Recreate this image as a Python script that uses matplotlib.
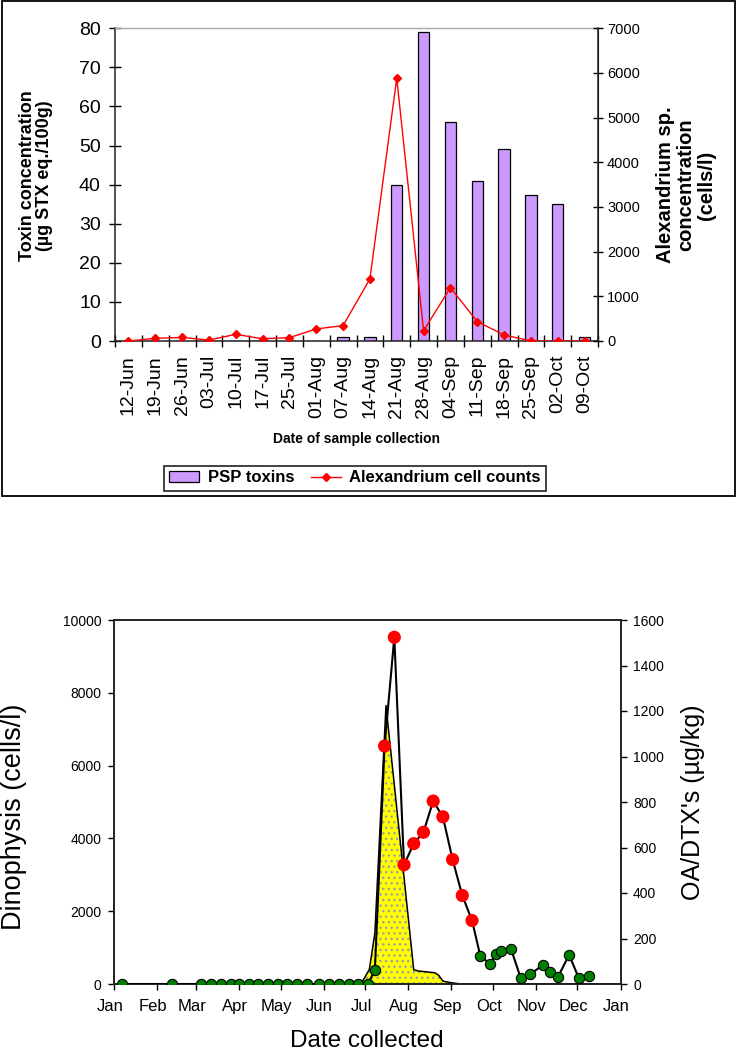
import matplotlib
matplotlib.use('Agg')
import matplotlib.pyplot as plt
import matplotlib.dates as mdates
from matplotlib.patches import Rectangle, Patch
from matplotlib.lines import Line2D
from matplotlib.transforms import ScaledTranslation
import numpy as np
import pandas as pd

plt.rcParams['font.family'] = ['Liberation Sans', 'DejaVu Sans']
plt.rcParams['hatch.linewidth'] = 1.0

# ---------------- Top chart data ----------------
sample_dates = ['12-Jun', '19-Jun', '26-Jun', '03-Jul', '10-Jul', '17-Jul', '25-Jul',
                '01-Aug', '07-Aug', '14-Aug', '21-Aug', '28-Aug', '04-Sep', '11-Sep',
                '18-Sep', '25-Sep', '02-Oct', '09-Oct']
psp_toxins = [0, 0, 0, 0, 0, 0, 0, 0, 1, 1, 40, 79, 56, 41, 49, 37.3, 35, 1]
alexandrium_cells = [0, 60, 80, 20, 150, 50, 75, 270, 345, 1390, 5885, 230, 1195,
                     435, 135, 0, 0, 0]

# ---------------- Bottom chart data ----------------
year_start = pd.Timestamp('2005-01-01')
dino_days = [160, 178, 184, 188, 196, 216, 219, 226, 231, 234, 237, 242, 250, 365]
dino_cells = [0, 0, 400, 1400, 7650, 390, 360, 330, 310, 240, 80, 40, 0, 0]
oa_days = [6, 42, 63, 70, 77, 84, 90, 97, 104, 111, 118, 125, 132, 139, 148, 155,
           162, 169, 176, 183, 188, 195, 202, 209, 216, 223, 230, 237, 244, 251,
           258, 264, 271, 275, 279, 286, 293, 300, 309, 314, 320, 328, 335, 342]
oa_values = [0, 0, 0, 0, 0, 0, 0, 0, 0, 0, 0, 0, 0, 0, 0, 0, 0, 0, 0, 0,
             62, 1046, 1524, 524, 617, 667, 804, 735, 547, 389, 279, 123, 88, 130,
             146, 156, 28, 42, 84, 54, 32, 128, 25, 37]
oa_limit = 160

W, H = 736, 1050
fig = plt.figure(figsize=(W / 100, H / 100), dpi=100)


def fx(px):
    return px / W


def fy(py):
    return 1 - py / H


# outer border of the top chart
fig.patches.append(Rectangle((fx(1.5), fy(496)), fx(733), 495 / H, transform=fig.transFigure,
                             fill=False, edgecolor='black', linewidth=1.3, zorder=0))

# ================= TOP CHART =================
ax1 = fig.add_axes([fx(115), fy(341), fx(598 - 115), (341 - 28.3) / H])
n = len(sample_dates)
centers = np.arange(n) + 0.5
ax1.bar(centers, psp_toxins, width=0.42, color='#CC99FF', edgecolor='black', linewidth=0.9,
        zorder=2)
ax1.set_xlim(0, n)
ax1.set_ylim(0, 80)
ax1.set_yticks(np.arange(0, 81, 10))
ax1.tick_params(axis='y', direction='inout', length=8.5, width=1, labelsize=14, pad=6)
ax1.set_xticks(np.arange(0, n + 1))
ax1.set_xticklabels([])
ax1.tick_params(axis='x', which='major', direction='inout', length=9, width=1)
ax1.set_xticks(centers, minor=True)
ax1.set_xticklabels(sample_dates, minor=True, rotation=90, fontsize=14)
ax1.tick_params(axis='x', which='minor', length=0, pad=10)
for s in ['left', 'bottom']:
    ax1.spines[s].set_color('#222222')
    ax1.spines[s].set_linewidth(1.1)
ax1.spines['top'].set_color('#a8a8a8')
ax1.spines['top'].set_linewidth(1.0)

ax2 = ax1.twinx()
ax2.plot(centers, alexandrium_cells, color='#FF0000', linewidth=1.0, marker='D',
         markersize=4, zorder=3)
ax2.set_ylim(0, 7000)
ax2.set_yticks(np.arange(0, 7001, 1000))
ax2.tick_params(axis='y', direction='inout', length=7, width=1, labelsize=10.5, pad=3)
ax2.spines['right'].set_color('#222222')
ax2.spines['right'].set_linewidth(1.1)
ax2.spines['top'].set_visible(False)
ax2.spines['left'].set_visible(False)
ax2.spines['bottom'].set_visible(False)

fig.text(fx(36), fy(176), 'Toxin concentration\n(µg STX eq./100g)', rotation=90,
         ha='center', va='center', fontsize=13, fontweight='bold', linespacing=1.0,
         multialignment='center')
fig.text(fx(686), fy(185), 'Alexandrium sp.\nconcentration\n(cells/l)', rotation=90,
         ha='center', va='center', fontsize=14.5, fontweight='bold', linespacing=1.12,
         multialignment='center')
fig.text(fx(356.5), fy(439), 'Date of sample collection', ha='center', va='center',
         fontsize=10, fontweight='bold')

handles = [Patch(facecolor='#CC99FF', edgecolor='black', linewidth=0.9),
           Line2D([], [], color='#FF0000', linewidth=1.0, marker='D', markersize=4)]
leg = fig.legend(handles, ['PSP toxins', 'Alexandrium cell counts'], loc='center',
                 bbox_to_anchor=(fx(355), fy(478)), ncol=2, frameon=True, fancybox=False,
                 prop={'weight': 'bold', 'size': 12}, handlelength=1.8, handleheight=0.6,
                 columnspacing=1.0, handletextpad=0.5, borderpad=0.3, borderaxespad=0)
leg.get_frame().set_edgecolor('black')
leg.get_frame().set_linewidth(1.3)

# ================= BOTTOM CHART =================
ax3 = fig.add_axes([fx(114), fy(984), fx(620.5 - 114), (984 - 620) / H])
dino_dates = year_start + pd.to_timedelta(dino_days, unit='D')
oa_dates = year_start + pd.to_timedelta(oa_days, unit='D')

ax3.fill_between(dino_dates, dino_cells, 0, facecolor='#FFFF00', edgecolor='#a0a0a0',
                 hatch='...', linewidth=0, zorder=2)
ax3.plot(dino_dates, dino_cells, color='black', linewidth=1.1, zorder=3)
ax3.set_ylim(0, 10000)
ax3.set_yticks(np.arange(0, 10001, 2000))
ax3.set_xlim(year_start, year_start + pd.Timedelta(days=365))
ax3.xaxis.set_major_locator(mdates.MonthLocator())
ax3.xaxis.set_major_formatter(mdates.DateFormatter('%b'))
ax3.tick_params(axis='x', direction='out', length=4, width=1, labelsize=12, pad=7)
ax3.tick_params(axis='y', direction='out', length=4, width=1, labelsize=10, pad=5)
for lab in ax3.get_xticklabels():
    lab.set_transform(lab.get_transform() + ScaledTranslation(-0.04, 0, fig.dpi_scale_trans))
for s in ax3.spines.values():
    s.set_color('#222222')
    s.set_linewidth(1.2)

ax4 = ax3.twinx()
ax4.plot(oa_dates, oa_values, color='black', linewidth=1.5, zorder=3)
oa_arr = np.array(oa_values)
high = oa_arr > oa_limit
ax4.scatter(oa_dates[high], oa_arr[high], s=90, color='#FF0000', edgecolors='none', zorder=4)
ax4.scatter(oa_dates[~high], oa_arr[~high], s=55, color='#008000', edgecolors='black',
            linewidths=0.8, zorder=4)
ax4.set_ylim(0, 1600)
ax4.set_yticks(np.arange(0, 1601, 200))
ax4.tick_params(axis='y', direction='out', length=4, width=1, labelsize=10, pad=5)
for s in ax4.spines.values():
    s.set_color('#222222')
    s.set_linewidth(1.2)

fig.text(fx(14), fy(817), 'Dinophysis (cells/l)', rotation=90, ha='center', va='center',
         fontsize=19.5)
fig.text(fx(693), fy(802), "OA/DTX's (µg/kg)", rotation=90, ha='center', va='center',
         fontsize=18)
fig.text(fx(367), fy(1041), 'Date collected', ha='center', va='center', fontsize=17.5)

fig.savefig('out.png', dpi=100)
